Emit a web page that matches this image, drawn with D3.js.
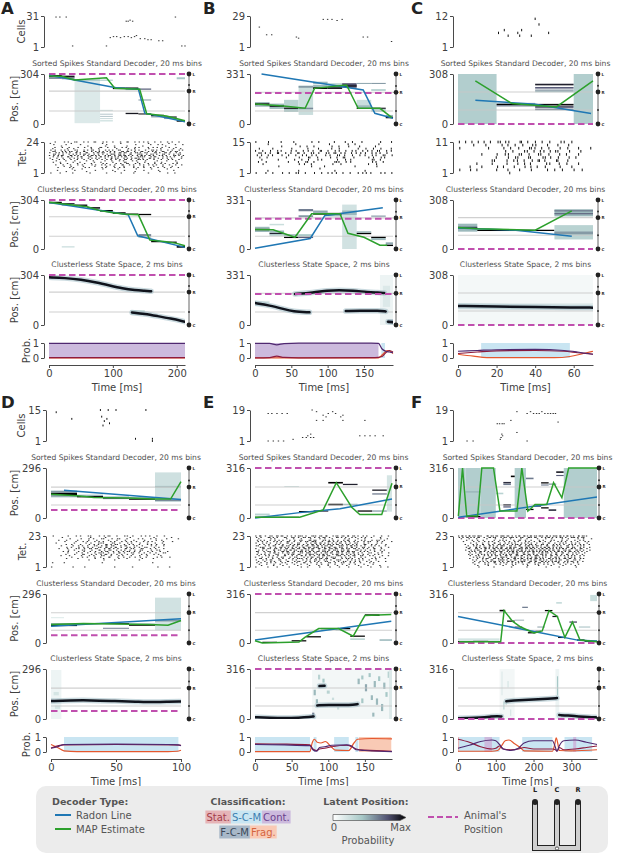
<!DOCTYPE html>
<html><head><meta charset="utf-8">
<script src="https://cdn.jsdelivr.net/npm/d3@7"></script>
<style>body{margin:0;background:#fff}svg{display:block}text{font-family:'DejaVu Sans',sans-serif}</style>
</head><body>
<script>
// ---------------- panel meta ----------------
const panelIds=['A','B','C','D','E','F'];
const durations=[213,190,70,100,187,368];
const maxPos=[304,331,308,296,316,316];
const animalPos=[304,205,0,47,316,0];
const nCells=[31,29,12,15,19,19];
const nTets=[24,15,11,23,23,23];
const trackUpper=[200,210,197,183,196,196];
const trackLower=[79,86,86,77,82,82];
const xTicks=[[0,100,200],[0,50,100,150],[0,20,40,60],[0,50,100],[0,50,100,150],[0,100,200,300]];

// Tetrode rasters: one string per tetrode (top row first); each character is one time slot,
// '.' = no mark, a digit d = mark at d/10 of the way through that slot.

// ---------------- panel A ----------------
const A_cells=[[11,30],[17,30],[27,30],[37,2],[90,2],[96,10],[101,11],[106,11],[112,10],[118,11],[121,26],[124,26],[127,27],[131,26],[124,11],[129,10],[134,11],[137,12],[143,9],[150,9],[155,8],[160,8],[172,7],[178,7],[198,30],[208,2],[213,2]];
const A_tet=[
"..3..7.1.52.8.4.61.9.2.5..3.71.6.28.4.9..1.6.3.8..",
"5.......2..........7......4.........6.......1.....",
".8....3....6.........2.........9.....4..17....5..2",
"....6.........3.....8...1...7.....5.......9.......",
"..2.9..4..7..1.5..83.6..2.9.4..7.1..5.38.6..2.7...",
".4....8..1.....6..3.....9....2.5....7....1...8..4.",
"7.3.58.1.64.9.273.5.8.14.62.9.37.1.5.846.2.7.3.9.1",
".52.9.164.3.81.7.259.46.1.8372.5.94.6.13.72.8.51..",
"3.68.147.925.71.48362.5.19473.2856.31.947.615.8.2.",
".736.2.49.15837.6.28.4951736.82.7419.536.84.29.63.",
"28.461.9357.8.36124.795.2846137.5923814.67.1.958.4",
".6.37.924.581.73.49268.135794.2.8631.572.9.46.1.8.",
"4.9..2.7.36.1.58.24.7.9153.68.47215.936.28.5.1..7.",
".3.8.6..1.4.9..2.7.5.38.6.194.2.857.1.6..3.9.4.8..",
"..7...2..5...8..3...6..1.9.4..7.2..5...8...3..6...",
".6..2...9..4....7..1...5...83...6..2..9..4.....1..",
"....3.8...5..1.6...9.2..7.4.61.8.3..5.9..27..6.1..",
"..5..2.9..6.3..8.1.47.5.2.93.6.1.48.7.25.9..3.6.8.",
".....7..3...9....2...6..4...1..8...5...3..7...2....",
"...4...8.2...6.1...9.3..7.5.2..8.4.6..1.9..3.7..5..",
"........6...2......8.....4......1....7.....5......",
"...2.....7.......4.....9....3......6.....1....8....",
"......5.......1.........8.......3........6.........",
"7...2...9......4.....6.....1...8.....3......5..2..."];
const A_sortedPost=[[0,20,284,298,1],[0,20,274,284,0.45],[20,40,282,294,0.9],[20,40,272,282,0.4],[40,80,5,262,0.1],[40,80,262,272,0.25],[80,100,262,270,0.2],[80,100,80,86,0.15],[80,100,58,62,0.35],[80,100,45,49,0.35],[80,100,33,36,0.3],[80,100,15,25,0.12],[100,120,212,222,1],[120,140,212,222,1],[120,140,206,212,0.4],[120,140,60,68,0.9],[140,160,208,216,0.55],[140,160,143,149,0.4],[140,160,58,64,1],[160,180,48,56,1],[160,180,40,48,0.4],[180,200,38,46,0.9],[180,200,30,38,0.35],[200,213,14,24,1],[200,213,272,284,0.25]];
const A_sortedMAP=[[0,292],[20,290],[40,267],[90,281],[103,217],[142,211],[153,62],[184,49],[213,20]];
const A_sortedRadon=[[0,297],[105,220],[140,212],[150,66],[213,14]];
const A_clustPost=[[0,20,283,293,1],[20,40,275,285,0.8],[20,40,268,275,0.3],[20,40,10,16,0.2],[40,60,266,276,0.9],[60,80,250,260,0.9],[80,100,232,242,1],[100,120,218,228,1],[120,140,212,220,1],[140,160,210,218,1],[140,160,80,92,0.5],[140,160,70,80,0.3],[160,180,42,50,1],[180,200,38,46,1],[200,213,8,20,1]];
const A_clustMAP=[[0,290],[20,280],[40,272],[60,262],[80,238],[100,225],[120,216],[140,212],[158,55],[184,45],[200,35],[213,20]];
const A_clustRadon=[[0,288],[124,213],[139,82],[213,10]];
const A_ssPaths=[[[0,290],[25,286],[50,276],[75,258],[95,240],[115,222],[135,212],[150,208],[160,205]],[[130,76],[150,68],[170,54],[190,40],[213,20]]];
const A_ssBlobs=[[128,150,60,90,0.15],[0,6,280,300,0.2]];
const A_probCont=[[0,0.97],[100,0.98],[213,0.97]];
const A_probStat=[[0,0.03],[213,0.03]];
const A_probFrag=[[0,0.01],[213,0.01]];
const A_spans=[[0,213,'cont']];

// ---------------- panel B ----------------
const B_cells=[[6,19],[16,12],[23,12],[57,10],[60,9],[94,26],[100,26],[106,26],[113,25],[120,26],[149,10],[155,10],[188,6]];
const B_tet=[
"3...7....1...5.....8..2....6...4.9...2.....7...5",
"....6.........2..........9......4.8........1....",
".........3.....7..1.5.....8..2..6...4....9......",
".5....2.....8.....4...1...7..3.....9..6..2.8...4",
"2.7..4.9.1..6.3.8.5.2.71.4.9.3.6.8.1.5.27.63.8.4",
".416.3.82.7.5.93.1.64.2.87.519.3.6.28.4.7.15.9..",
"8.3.6.1..4.7..2.59.8.3..6.1.74.2.9..5.3.8.1.62.7",
".7..2.....9....4..61.8....3.5.72..4....6.2.9.1..",
"..4.....1....8..3.6..9.2....7..5.3......84.6....",
".2.9.......6...1.73.5......842.7.3......9.1.6...",
"..8............4.2.6.......1.9.........5..3.....",
"........3..........7....2.........8.......4.....",
"......................6.........................",
"....5..........2...........8..........3.........",
"4..8..2..6.9..31.5..7..2.48.3.6..1.9.57.3..8.2.6"];
const B_sortedPost=[[0,20,125,138,0.95],[0,20,115,125,0.35],[0,20,138,145,0.3],[20,40,112,125,0.8],[20,40,100,112,0.3],[20,40,125,135,0.3],[40,60,100,110,1],[40,60,80,100,0.25],[40,60,110,160,0.2],[60,80,60,255,0.15],[60,80,240,252,0.4],[60,80,98,108,0.45],[80,100,232,244,1],[80,100,244,260,0.3],[80,100,265,280,0.3],[100,120,232,244,0.9],[100,120,244,256,0.35],[100,120,256,270,0.2],[120,140,240,270,0.65],[120,140,248,256,0.9],[140,160,265,272,0.35],[140,160,100,108,1],[140,160,108,125,0.3],[140,160,125,160,0.15],[160,180,265,272,0.4],[160,180,220,230,0.25],[160,180,100,108,0.9],[160,180,80,100,0.2],[180,190,38,50,1],[180,190,50,60,0.3]];
const B_sortedMAP=[[0,132],[39,119],[69,104],[82,236],[126,258],[142,104],[172,104],[188,44]];
const B_sortedRadon=[[9,331],[149,225],[165,71],[190,38]];
const B_clustPost=[[0,20,125,138,1],[0,20,115,125,0.3],[0,20,138,150,0.3],[20,40,100,110,0.85],[20,40,110,125,0.3],[20,40,90,100,0.25],[20,40,160,170,0.15],[40,60,74,84,1],[40,60,84,100,0.3],[60,80,215,228,0.4],[60,80,255,270,0.5],[60,80,84,100,0.25],[60,80,74,84,0.6],[80,100,232,244,1],[80,100,244,260,0.35],[100,120,232,244,1],[100,120,220,232,0.3],[120,140,0,300,0.13],[120,140,230,260,0.3],[140,160,100,110,1],[140,160,110,120,0.3],[160,180,74,84,1],[160,180,60,74,0.3],[160,180,218,226,0.4],[180,190,20,30,1],[180,190,30,45,0.35]];
const B_clustMAP=[[0,132],[25,130],[55,79],[78,238],[117,238],[128,106],[150,79],[172,26],[182,26]];
const B_clustRadon=[[0,5],[76,71],[96,225],[176,278]];
const B_ssPaths=[[[0,145],[20,130],[40,105],[52,90],[75,84]],[[125,92],[150,94],[170,95],[180,90]],[[55,205],[80,215],[100,228],[115,232],[135,228],[155,218],[170,215],[178,212]],[[183,22],[190,18]]];
const B_ssBlobs=[[172,190,0,331,0.05],[176,186,120,260,0.1],[183,190,10,35,0.5],[0,20,125,160,0.1]];
const B_probCont=[[0,0.98],[20,0.97],[30,0.88],[40,0.96],[60,0.99],[160,0.99],[170,0.97],[175,0.6],[180,0.45],[185,0.4],[190,0.35]];
const B_probStat=[[0,0.01],[20,0.03],[30,0.12],[40,0.04],[60,0.01],[165,0.02],[175,0.1],[180,0.35],[185,0.5],[190,0.4]];
const B_probFrag=[[0,0.01],[170,0.01],[176,0.25],[182,0.5],[186,0.45],[190,0.3]];
const B_spans=[[0,170,'cont'],[174,179,'scm']];

// ---------------- panel C ----------------
const C_cells=[[21,6],[24,7],[26,5],[31,6],[32,5],[33,7],[38,5],[40,11],[42,9],[47,6]];
const C_tet=[
"37.158.29463.815.27.4.96.3....",
"...5..2..8.17.4.63.9..2.6.....",
"4.....8...27.5.9316.2.7.4.8..5",
"..........6.2.849.31572.8..3..",
".....3..7.52.618.94.2.6.1.8...",
"........5..283.71.946.3.7.2...",
".......61.9.427.5813.92.4.....",
"....2..6..9..38.1..74.5.2.8...",
"..7..3..8.1.5.9.26.4..7..3....",
"4.8.2...6..1.7..3..9.5.2.8.6..",
"...........5.................."];
const C_sortedPost=[[0,20,0,308,0.22],[20,40,116,124,1],[20,40,124,130,0.4],[20,40,108,116,0.5],[40,60,238,248,0.85],[40,60,218,228,0.6],[40,60,205,212,0.45],[40,60,196,204,0.3],[40,60,114,124,0.95],[40,60,100,110,0.7],[40,60,85,95,0.5],[60,70,0,308,0.22]];
const C_sortedMAP=[[9,265],[28,126],[51,105],[70,265]];
const C_sortedRadon=[[9,147],[40,121],[69,65]];
const C_clustPost=[[0,10,109,159,0.3],[0,10,128,140,0.7],[10,30,113,121,1],[30,50,113,121,1],[50,70,205,250,0.3],[50,70,218,226,0.55],[50,70,236,244,0.5],[50,70,60,150,0.2],[50,70,92,110,0.4]];
const C_clustMAP=[[0,135],[10,127],[40,118],[59,240]];
const C_clustRadon=[[0,132],[30,118],[59,80]];
const C_ssPaths=[[[0,117],[20,114],[40,111],[60,108],[70,107]]];
const C_ssBlobs=[[0,70,0,308,0.03],[0,70,95,135,0.08]];
const C_probCont=[[0,0.45],[10,0.5],[20,0.55],[40,0.57],[55,0.5],[62,0.4],[70,0.25]];
const C_probStat=[[0,0.3],[10,0.4],[20,0.48],[40,0.5],[55,0.45],[62,0.35],[70,0.25]];
const C_probFrag=[[0,0.25],[8,0.12],[15,0.03],[50,0.02],[58,0.1],[65,0.3],[70,0.45]];
const C_spans=[[12,58,'scm']];

// ---------------- panel D ----------------
const D_cells=[[4,14],[16,11],[38,15],[44,15],[50,15],[39,12],[41,10],[43,11],[40,8],[45,9],[73,15],[65,2],[78,2],[78,1]];
const D_tet=[
"7....3.8.1.52.9.461.3.75.2.8.14.6.9.....",
"...5........2...8.......4......7.....1..",
".....9...3.7.1.62.8.51.4..9.2.7.3..6...2",
"..4.8...2..6..1..7..3.9..5..8...4.1.....",
"....3..7.9.2.58.1.46.8.27.3.59.1..6..4..",
".6.....2..8.3.741.95.2.68..4.7..1.3.....",
"....7.4..1.8.36.92584.6.13.2.79.5.8.....",
"...2..8.57.3.4169273.582.64.1.9.3.7.....",
"....9.3.6.148.73925816.437.295.8.2......",
"..5..1.86.39472.58136.9274.83.6.2.7.....",
".....4.2.73.6.81594.267.38.51.9.64......",
"...8.3..5.2.17.694.28.3517.4.8.2.6.9....",
".....2.9.6.3.58417.3926.84.17.5.3.62....",
"....6..3.82.59.4716.38.5.2.9.4.7.1......",
"...1.7...4.8.2.63.5.9.1.7..3.6...8......",
"......4..7.2.5.3.81.6.4.29.5.3..7.1.6...",
"....8...3....6..2...9..4....1..5........",
"...........7....3..6.......2............",
"........................................",
"5...1..........8...............3........",
"........................................",
"........................................",
"2.....8...4........6.....1......9...5..."];
const D_sortedPost=[[0,20,120,165,0.13],[0,20,136,150,1],[0,20,150,160,0.4],[0,20,126,136,0.4],[20,40,122,130,1],[20,40,130,138,0.3],[40,60,112,120,0.6],[40,60,120,128,0.3],[60,80,108,116,1],[60,80,116,124,0.3],[80,100,95,270,0.14],[80,100,180,190,0.28],[80,100,100,110,0.45]];
const D_sortedMAP=[[0,140],[20,131],[33,121],[60,118],[79,112],[92,112],[100,215]];
const D_sortedRadon=[[10,164],[100,110]];
const D_clustPost=[[0,20,102,112,1],[0,20,112,120,0.35],[0,10,150,155,0.12],[20,40,114,120,1],[40,60,114,120,1],[40,60,86,92,0.5],[60,80,104,112,1],[60,80,112,118,0.3],[80,100,77,274,0.13],[80,100,130,140,0.4]];
const D_clustMAP=[[0,112],[25,118],[75,112],[90,107],[100,136]];
const D_clustRadon=[[0,101],[100,146]];
const D_ssPaths=[[[0,106],[15,110],[30,111],[50,106],[65,103],[80,99],[90,102],[100,104]]];
const D_ssBlobs=[[0,8,0,290,0.05],[2,6,140,160,0.12],[3,7,60,80,0.12]];
const D_probCont=[[0,0.25],[5,0.35],[10,0.5],[50,0.52],[90,0.5],[98,0.48],[100,0.42]];
const D_probStat=[[0,0.27],[10,0.47],[50,0.5],[95,0.48],[100,0.45]];
const D_probFrag=[[0,0.5],[5,0.3],[10,0.08],[20,0.03],[90,0.03],[97,0.05],[100,0.12]];
const D_spans=[[10,98,'scm']];

// ---------------- panel E ----------------
const E_cells=[[18,17],[23,17],[30,17],[37,17],[44,17],[78,19],[84,18],[93,16],[97,15],[100,17],[106,18],[110,17],[117,15],[120,16],[84,13],[93,13],[120,13],[150,13],[18,1],[25,1],[32,1],[39,1],[52,2],[65,3],[70,3],[76,3],[80,3],[72,4],[76,5],[143,4],[150,4],[157,4],[164,4],[175,4]];
const E_tet=[
"3718.5294618.379526.8417392.5628491736.58..4..2.7.",
"6.2.947.1.83.529.73618.495.2.836.1.47.9.3.5..8....",
".4...8.2...6..1.9...3..7.5..2...8.4..6..1....9..3.",
"9.14.6.38.2.7.5.41.8362.97.15.3.482.6.9.1.7.53.2..",
".27.5.9.16.84.3.7.52941.6.837.159.4.26.8.31.7.5..9",
"4.8.26.9.3.715.62.8.4937158.2694.17.53.8.4..6.2...",
".7.3.1.58.2.9.4617.38259.1746839.527.1.94.6.2..8..",
"52.8.173.9264815.372958146372.851693427.1.58.3.6..",
".961.4.28357.146928375164928375.2816.739.5..2.8.",
"3.7152849.61837294561829374618253947.26.81.4...",
".48.2.9163758241936571.485927316482.957.3.16.8.2..",
"61.385.2.9471.3862591473865.294718362.59.1.7..4...",
".2.7.5936.18472.6395184.27361958.43827.1.64.9.3.8.",
"8.36.1.74.9.25183.694275813.4726159.38.5.2.7.1....",
".5.9.27.4.81.6.3925.17.48362.9517.284.63.9.1..5.7.",
"2.6.9.4.173.8.52.9.361847.2953.6.18.4.7.3..9.5....",
".83.1.5.7.2.49.6318.5.27394.61.8.425.9.3..7.1..6..",
"5.9.261.83.4.7.1.59.2846.317.952.8.36.14.7..2.....",
".3.6.8.1.4.92.573.6.18.2.74.9.5.318.6.2.8.4..1.7..",
"7.2.48.5.9.1.6.3.82.4.7.1.95.3.64.8.2.5..9.3......",
".6..3.9..2.7..4.8..1..5.3.7..2.9..4.6..8...1......",
"..4...8...2....6...9...3..7...1..5...8...2...6....",
"3...7...1...5...9..2...6...4..8...2...7...3..9..5."];
const E_sortedPost=[[0,20,0,8,1],[0,20,16,28,0.2],[20,40,0,8,1],[40,60,0,8,0.9],[40,60,196,200,0.2],[60,80,36,44,1],[80,100,40,48,0.8],[100,120,80,90,1],[100,120,218,228,1],[120,140,208,216,0.85],[120,140,82,90,0.3],[140,160,40,48,1],[160,180,40,48,0.4],[160,180,172,180,0.9],[160,180,148,156,0.5],[180,187,40,270,0.12]];
const E_sortedMAP=[[0,5],[61,5],[93,51],[111,223],[132,68],[143,22],[173,22],[187,220]];
const E_sortedRadon=[[0,0],[61,34],[116,59],[187,120]];
const E_clustPost=[[10,30,0,8,1],[30,50,0,6,0.6],[50,70,10,18,1],[70,90,36,44,1],[90,110,89,97,1],[110,130,89,97,1],[110,130,80,88,0.3],[130,150,40,48,1],[130,150,20,30,0.2],[150,170,175,185,1],[170,187,14,24,0.3]];
const E_clustMAP=[[0,15],[10,0],[60,6],[68,36],[87,93],[114,93],[134,44],[146,145],[150,177],[186,183]];
const E_clustRadon=[[0,19],[186,141]];
const E_ssPaths=[[[0,11],[20,8],[40,6],[60,8],[75,12],[80,16]],[[85,86],[100,88],[120,89],[135,90],[140,94]],[[88,208],[95,210]]];
const E_ssBlobs=[[78,187,0,316,0.035],[78,81,15,40,0.5],[80,83,150,185,0.3],[83,86,100,125,0.3],[86,89,250,280,0.2],[90,96,200,214,0.45],[92,95,230,255,0.25],[98,102,160,180,0.2],[105,108,120,135,0.15],[112,115,60,75,0.15],[140,143,220,255,0.3],[145,148,250,275,0.25],[150,153,175,220,0.35],[155,158,265,290,0.25],[158,161,120,150,0.3],[162,165,200,240,0.3],[165,168,90,130,0.3],[168,171,240,270,0.25],[172,175,50,95,0.3],[175,178,190,230,0.3],[178,181,140,170,0.25],[181,184,260,300,0.2],[183,187,0,316,0.1],[145,148,100,130,0.25],[160,163,15,40,0.3]];
const E_probCont=[[0,0.5],[40,0.47],[75,0.42],[79,0.15],[84,0.05],[88,0.3],[95,0.35],[105,0.45],[125,0.48],[132,0.4],[138,0.15],[150,0.1],[170,0.05],[187,0.03]];
const E_probStat=[[0,0.55],[40,0.53],[75,0.47],[79,0.2],[84,0.1],[88,0.2],[95,0.25],[105,0.35],[125,0.45],[132,0.35],[138,0.2],[150,0.12],[187,0.05]];
const E_probFrag=[[0,0.02],[75,0.03],[78,0.6],[81,0.85],[85,0.65],[90,0.6],[96,0.7],[104,0.35],[110,0.12],[128,0.1],[135,0.6],[140,0.85],[160,0.9],[187,0.88]];
const E_spans=[[0,75,'scm'],[80,84,'scm'],[108,128,'scm'],[137,141,'scm'],[142,186,'frag']];

// ---------------- panel F ----------------
const F_cells=[[24,1],[40,1],[104,11],[110,11],[117,11],[122,11],[112,2],[114,3],[116,5],[118,4],[140,13],[156,18],[156,6],[183,17],[192,18],[200,17],[208,17],[215,17],[222,18],[230,17],[238,17],[245,17],[252,17],[258,17],[265,12],[183,1]];
const F_tet=[
"37159264831.826473951628.47193582647318259637148257.91634....",
"6.2947.183.5.7264.9.318527.64.93172.8.4615.297.3.8516.42.....",
".5..9...2...7...4..8...1...6..3...9...5..2...8..4...7..1..6..",
"...8..3.6..1...9..47.2..5.83.6..1..7.4..9.2..6.8...3.5.1.....",
"..4...9..2.7.5.1.8..3.6.9.4..7.2.5.81.3.6..9.4.2.7..5..8.3...",
".....6..1.8..4.92.5.7.36.1.9.48.2.6..3.71.5.8.24.9.6.3..7....",
"...2..7.4.91.6.3.85.17.9.426.8.53.1.74.2.9.36.5.8.14.7.2.6...",
"....5.9.27.4.816.3952.74.193.6827.415.93.627.1.84.3.59.2.....",
"...7.3.915.628.47193.58264.71935826.493718.264.95.31.7.2.8...",
"....61.84.2937.5168294735.92174836.5928147.36925.814.73.6....",
"...4.8.362.71.594.273816495827.36159472836194.5372.846.1.9...",
"....9.24.716.3849152.67938.214759368.1527.4936.185.27.4.6....",
".....3.8.51.9.264.715.39482.617.93.58264.193.72.5.48.1.6.....",
"....7.2.9.46.18.3.59.274.61.8395.27.416.8.93.5.71.4.2.6......",
".....4.9.1.6.38.527.94.1.6382.57.941.26.83.5.17.49.2.6.3.....",
"......8.35.1.72.6.9413.582.7.16.3948.25.7.613.9.48.2.5.......",
".....2..6.9.41.738.5.92.61483.57196.24.837.15.6294.3.8.1.....",
"......5.1.8.3.62.97415.283.6947.1528369.74.152.83.96.4.......",
".......3.7.19.584.26.9371.5842.6193.7258.4613.9.274.5.8......",
"......6..2.8.4.93.7.15.8.36.2.94.7.518.3.6.92.4.1.7.5........",
".......4...9.2..7.5..1.8.3..6.4..9.2.7.5..1.8..3.6..9........",
"........7....3.....8....2.....6....4....9.....1....5.........",
".........2.....8.......5......3.......7.....4......9........."];
const F_sortedPost=[[0,20,0,316,0.22],[20,60,20,316,0.22],[20,40,4,14,1],[40,60,4,14,1],[20,60,160,170,0.3],[60,100,0,316,0.22],[100,120,150,160,0.2],[120,140,218,228,0.8],[120,140,208,216,0.5],[120,140,78,88,0.85],[120,140,66,74,0.6],[140,160,258,268,1],[150,180,0,316,0.22],[180,200,245,255,0.5],[180,200,50,58,1],[200,220,70,80,0.6],[220,240,218,226,1],[220,240,205,212,0.5],[220,240,60,68,1],[240,260,45,55,0.8],[240,260,210,218,0.4],[260,280,285,295,0.9],[260,280,265,272,0.6],[280,368,0,316,0.22]];
const F_sortedMAP=[[1,13],[12,316],[23,13],[52,13],[63,316],[94,316],[111,44],[156,44],[169,316],[185,44],[191,55],[204,86],[235,86],[253,223],[275,128],[293,316],[368,316]];
const F_sortedRadon=[[1,5],[368,133]];
const F_clustPost=[[0,110,14,30,0.12],[0,40,4,12,1],[40,80,6,14,0.9],[80,110,4,12,1],[110,125,204,214,1],[130,150,137,145,1],[150,175,145,150,0.4],[150,170,100,106,0.8],[170,185,226,234,0.5],[185,205,62,70,1],[205,220,74,82,0.7],[210,230,100,106,0.4],[230,250,205,213,1],[250,265,167,175,0.9],[260,275,255,262,0.25],[265,285,32,40,1],[295,315,131,139,0.7],[315,335,15,23,1],[320,350,100,106,0.3],[335,368,6,14,0.8],[350,368,270,310,0.15]];
const F_clustMAP=[[3,8],[113,8],[122,209],[144,141],[166,103],[201,65],[223,78],[241,209],[263,171],[283,36],[303,135],[323,19],[368,8]];
const F_clustRadon=[[0,171],[320,17],[368,13]];
const F_ssPaths=[[[0,4],[30,6],[60,9],[90,16],[105,19],[115,16]],[[128,112],[160,118],[200,123],[240,128],[262,132]],[[268,25],[290,22],[320,16],[345,12],[368,10]]];
const F_ssBlobs=[[110,150,0,316,0.035],[115,118,150,300,0.1],[120,123,60,110,0.2],[126,129,90,110,0.2],[131,134,200,240,0.12],[258,268,0,316,0.05],[262,265,150,270,0.25],[138,141,20,60,0.12]];
const F_probCont=[[0,0.25],[30,0.45],[60,0.7],[90,0.8],[100,0.75],[110,0.5],[120,0.2],[140,0.1],[160,0.25],[175,0.6],[200,0.75],[250,0.75],[258,0.3],[262,0.05],[268,0.4],[280,0.75],[310,0.8],[340,0.65],[368,0.5]];
const F_probStat=[[0,0.85],[30,0.65],[60,0.35],[90,0.2],[100,0.25],[110,0.4],[120,0.2],[140,0.15],[160,0.2],[175,0.3],[200,0.2],[250,0.2],[258,0.15],[262,0.05],[268,0.3],[280,0.15],[310,0.2],[340,0.3],[368,0.4]];
const F_probFrag=[[0,0.05],[90,0.05],[105,0.1],[115,0.4],[125,0.75],[135,0.8],[150,0.55],[165,0.3],[175,0.08],[250,0.05],[256,0.5],[260,0.95],[264,0.6],[268,0.1],[300,0.08],[368,0.15]];
const F_spans=[[0,110,'scm'],[70,90,'cont'],[0,3,'stat'],[170,250,'scm'],[282,355,'scm'],[305,313,'cont']];

// ---------------- legend text ----------------
const classLabels=[['Stat.','stat'],['S-C-M','scm'],['Cont.','cont'],['F-C-M','fcm'],['Frag.','frag']];

// ---------------- build tables ----------------
const P={
 A:{cells:A_cells,tet:A_tet,sp:A_sortedPost,sm:A_sortedMAP,sr:A_sortedRadon,cp:A_clustPost,cm:A_clustMAP,cr:A_clustRadon,ssp:A_ssPaths,ssb:A_ssBlobs,pc:A_probCont,ps:A_probStat,pf:A_probFrag,spans:A_spans},
 B:{cells:B_cells,tet:B_tet,sp:B_sortedPost,sm:B_sortedMAP,sr:B_sortedRadon,cp:B_clustPost,cm:B_clustMAP,cr:B_clustRadon,ssp:B_ssPaths,ssb:B_ssBlobs,pc:B_probCont,ps:B_probStat,pf:B_probFrag,spans:B_spans},
 C:{cells:C_cells,tet:C_tet,sp:C_sortedPost,sm:C_sortedMAP,sr:C_sortedRadon,cp:C_clustPost,cm:C_clustMAP,cr:C_clustRadon,ssp:C_ssPaths,ssb:C_ssBlobs,pc:C_probCont,ps:C_probStat,pf:C_probFrag,spans:C_spans},
 D:{cells:D_cells,tet:D_tet,sp:D_sortedPost,sm:D_sortedMAP,sr:D_sortedRadon,cp:D_clustPost,cm:D_clustMAP,cr:D_clustRadon,ssp:D_ssPaths,ssb:D_ssBlobs,pc:D_probCont,ps:D_probStat,pf:D_probFrag,spans:D_spans},
 E:{cells:E_cells,tet:E_tet,sp:E_sortedPost,sm:E_sortedMAP,sr:E_sortedRadon,cp:E_clustPost,cm:E_clustMAP,cr:E_clustRadon,ssp:E_ssPaths,ssb:E_ssBlobs,pc:E_probCont,ps:E_probStat,pf:E_probFrag,spans:E_spans},
 F:{cells:F_cells,tet:F_tet,sp:F_sortedPost,sm:F_sortedMAP,sr:F_sortedRadon,cp:F_clustPost,cm:F_clustMAP,cr:F_clustRadon,ssp:F_ssPaths,ssb:F_ssBlobs,pc:F_probCont,ps:F_probStat,pf:F_probFrag,spans:F_spans}
};

// ---------------- layout & style ----------------
const colX0=[49,255,458,51,255,458];
const colX1=[185,393,593,181,392,597];
const iconX=[189,396,598,189,396,599];
const rowOffset=[0,0,0,394,394,394];
const letterX=[1,203,411,1,203,411];
const ROW={cells:[16,47],sorted:[74,124],tet:[142,173],clust:[200,249],ss:[275,325],prob:[343,358],xaxis:365,time:387};
const TXT='#404040', SPINE='#4a4a4a';
const MAG='#c04fae', BLUE='#1f77b4', GREEN='#2ca02c';
const classBg={cont:'#ccbadd',scm:'#c9e5f2',fcm:'#a8b8c8',frag:'#f9cab5',stat:'#e6b4b7'};
const classFg={cont:'#6a3f8c',scm:'#3c7fb0',fcm:'#3b4858',frag:'#d5643d',stat:'#a33d4a'};
const lineCol={cont:'#4f2870',stat:'#8e1b3d',frag:'#e4572e'};
const bone=d3.scaleLinear().domain([0,0.254,0.635,1]).range(['#ffffff','#a6c7c6','#515171','#000000']).clamp(true);

const svg=d3.select('body').append('svg').attr('width',617).attr('height',856);
let clipN=0;

function styleAxis(a,fs){
  a.attr('font-family','DejaVu Sans').attr('font-size',fs||10);
  a.select('.domain').attr('stroke',SPINE).attr('stroke-width',1);
  a.selectAll('.tick line').attr('stroke',SPINE);
  a.selectAll('.tick text').attr('fill',TXT);
}
function leftAxis(g,scale,ticks,sx){
  const ax=d3.axisLeft(scale).tickValues(ticks).tickSize(3).tickSizeOuter(0).tickPadding(2).tickFormat(d3.format('d'));
  const a=g.append('g').attr('transform',`translate(${sx},0)`).call(ax);
  styleAxis(a,10);
}
function yLabel(g,txt,xc,yc){
  g.append('text').attr('transform',`translate(${xc},${yc}) rotate(-90)`).attr('text-anchor','middle')
   .attr('dominant-baseline','central').attr('font-size',10).attr('fill',TXT).text(txt);
}
function makeClip(g,x0,y0,w,h){
  const id='clp'+(clipN++);
  g.append('clipPath').attr('id',id).append('rect').attr('x',x0).attr('y',y0).attr('width',w).attr('height',h);
  return g.append('g').attr('clip-path',`url(#${id})`);
}
function raster(g,x,y,marks,rowH){
  const dense=rowH<2;
  const h=dense?0.85:Math.min(3.2,rowH*0.85);
  const w=dense?1.4:1.0;
  g.selectAll(null).data(marks).join('rect')
   .attr('x',d=>x(d[0])-w/2).attr('y',d=>y(d[1])-h/2).attr('width',w).attr('height',h).attr('fill','#111');
}

function posPlot(g,i,x,top,bot,post,map,radon,paths,blobs,title,first){
  const x0=colX0[i],x1=colX1[i];
  const y=d3.scaleLinear().domain([0,maxPos[i]]).range([bot,top]);
  const c=makeClip(g,x0,top,x1-x0,bot-top);
  const rects=(post||[]).concat(blobs||[]);
  c.selectAll(null).data(rects).join('rect')
   .attr('x',d=>x(d[0])).attr('width',d=>Math.max(0,x(Math.min(d[1],durations[i]))-x(d[0])))
   .attr('y',d=>y(d[3])).attr('height',d=>y(d[2])-y(d[3])).attr('fill',d=>bone(d[4]));
  c.selectAll(null).data([trackUpper[i],trackLower[i]]).join('line')
   .attr('x1',x0).attr('x2',x1).attr('y1',d=>y(d)).attr('y2',d=>y(d)).attr('stroke','#c8c8c8').attr('stroke-width',1.1).attr('opacity',0.85);
  if(paths){
    const ln=d3.line().x(d=>x(d[0])).y(d=>y(d[1])).curve(d3.curveBasis);
    c.selectAll(null).data(paths).join('path').attr('d',ln).attr('fill','none').attr('stroke','#9fbcc4').attr('stroke-width',5.5).attr('stroke-opacity',0.55).attr('stroke-linecap','round');
    c.selectAll(null).data(paths).join('path').attr('d',ln).attr('fill','none').attr('stroke','#10131c').attr('stroke-width',2.5).attr('stroke-linecap','round');
  }
  g.append('line').attr('x1',x0).attr('x2',x1).attr('y1',y(animalPos[i])).attr('y2',y(animalPos[i]))
   .attr('stroke',MAG).attr('stroke-width',2).attr('stroke-dasharray','6.5,3.5');
  const lin=d3.line().x(d=>x(d[0])).y(d=>y(d[1]));
  if(radon) g.append('path').datum(radon).attr('d',lin).attr('fill','none').attr('stroke',BLUE).attr('stroke-width',1.5);
  if(map) g.append('path').datum(map).attr('d',lin).attr('fill','none').attr('stroke',GREEN).attr('stroke-width',1.5);
  g.append('text').attr('x',(x0+x1)/2).attr('y',top-8.5).attr('text-anchor','middle').attr('font-size',7.6).attr('fill','#505050').text(title);
  leftAxis(g,y,[0,maxPos[i]],x0-5);
  if(first) yLabel(g,'Pos. [cm]',14,(top+bot)/2);
  const ix=iconX[i];
  const ic=g.append('g');
  ic.append('line').attr('x1',ix).attr('x2',ix).attr('y1',y(maxPos[i])).attr('y2',y(0)).attr('stroke','#666').attr('stroke-width',1);
  const big=[[maxPos[i],'L'],[trackUpper[i],'R'],[0,'C']];
  const small=[trackLower[i],trackUpper[i]+(maxPos[i]-trackUpper[i])*0.35];
  ic.selectAll(null).data(small).join('circle').attr('cx',ix).attr('cy',d=>y(d)).attr('r',1).attr('fill','#333');
  ic.selectAll(null).data(big).join('circle').attr('cx',ix).attr('cy',d=>y(d[0])).attr('r',2.4).attr('fill','#222');
  ic.selectAll(null).data(big).join('text').attr('x',ix+3.5).attr('y',d=>y(d[0])+1.5).attr('font-size',4).attr('font-weight','bold').attr('fill','#333').text(d=>d[1]);
}

function drawPanel(i){
  const id=panelIds[i], d=P[id], off=rowOffset[i], first=(i%3===0);
  const x0=colX0[i],x1=colX1[i];
  const x=d3.scaleLinear().domain([0,durations[i]]).range([x0,x1]);
  const g=svg.append('g');
  g.append('text').attr('x',letterX[i]).attr('y',14+off).attr('font-size',16.5).attr('font-weight','bold').attr('fill','#222').text(id);
  const [ct,cb]=[ROW.cells[0]+off,ROW.cells[1]+off];
  const yC=d3.scaleLinear().domain([1,nCells[i]]).range([cb,ct]);
  raster(g,x,yC,d.cells,(cb-ct)/(nCells[i]-1));
  leftAxis(g,yC,[1,nCells[i]],x0-5);
  if(first) yLabel(g,'Cells',21,(ct+cb)/2);
  posPlot(g,i,x,ROW.sorted[0]+off,ROW.sorted[1]+off,d.sp,d.sm,d.sr,null,null,'Sorted Spikes Standard Decoder, 20 ms bins',first);
  const [tt,tb]=[ROW.tet[0]+off,ROW.tet[1]+off];
  const yT=d3.scaleLinear().domain([1,nTets[i]]).range([tb,tt]);
  const tmarks=[];
  d.tet.forEach((s,k)=>{const row=nTets[i]-k; for(let j=0;j<s.length;j++){ const c=s[j]; if(c>='1'&&c<='9') tmarks.push([(j+(+c)/10)/s.length*durations[i],row]); }});
  raster(g,x,yT,tmarks,(tb-tt)/(nTets[i]-1));
  leftAxis(g,yT,[1,nTets[i]],x0-5);
  if(first) yLabel(g,'Tet.',22,(tt+tb)/2);
  posPlot(g,i,x,ROW.clust[0]+off,ROW.clust[1]+off,d.cp,d.cm,d.cr,null,null,'Clusterless Standard Decoder, 20 ms bins',first);
  posPlot(g,i,x,ROW.ss[0]+off,ROW.ss[1]+off,null,null,null,d.ssp,d.ssb,'Clusterless State Space, 2 ms bins',first);
  const [pt,pb]=[ROW.prob[0]+off,ROW.prob[1]+off];
  const yP=d3.scaleLinear().domain([0,1]).range([pb,pt]);
  g.selectAll(null).data(d.spans).join('rect').attr('x',s=>x(s[0])).attr('width',s=>x(s[1])-x(s[0]))
   .attr('y',yP(1)).attr('height',yP(0)-yP(1)).attr('fill',s=>classBg[s[2]]);
  const pl=d3.line().x(p=>x(p[0])).y(p=>yP(p[1])).curve(d3.curveMonotoneX);
  [['pf','frag'],['ps','stat'],['pc','cont']].forEach(([k,c])=>{
    g.append('path').datum(d[k]).attr('d',pl).attr('fill','none').attr('stroke',lineCol[c]).attr('stroke-width',1.2);
  });
  leftAxis(g,yP,[0,1],x0-5);
  if(first) yLabel(g,'Prob.',26,(pt+pb)/2);
  const ax=d3.axisBottom(x).tickValues(xTicks[i]).tickSize(3).tickSizeOuter(0).tickPadding(2);
  const a=g.append('g').attr('transform',`translate(0,${ROW.xaxis+off})`).call(ax);
  styleAxis(a,10);
  g.append('text').attr('x',(x0+x1)/2).attr('y',ROW.time+off+3.5).attr('text-anchor','middle').attr('font-size',10).attr('fill',TXT).text('Time [ms]');
}
panelIds.forEach((id,i)=>drawPanel(i));

// ---------------- legend ----------------
const lg=svg.append('g');
lg.append('rect').attr('x',36).attr('y',786).attr('width',572).attr('height',67).attr('rx',10).attr('fill','#ececec');
const head=(t,xx,anchor)=>lg.append('text').attr('x',xx).attr('y',805).attr('text-anchor',anchor).attr('font-size',9.5).attr('font-weight','bold').attr('fill','#555').text(t);
head('Decoder Type:',52,'start');
[['Radon Line',BLUE,815],['MAP Estimate',GREEN,829]].forEach(([t,c,yy])=>{
  lg.append('line').attr('x1',55).attr('x2',71).attr('y1',yy).attr('y2',yy).attr('stroke',c).attr('stroke-width',2);
  lg.append('text').attr('x',76).attr('y',yy+3.5).attr('font-size',10).attr('fill','#555').text(t);
});
head('Classification:',248,'middle');
function classRow(items,yy){
  const gr=lg.append('g');
  const ts=items.map(([t,k])=>gr.append('text').attr('y',yy+3.5).attr('font-size',10).attr('fill',classFg[k]).text(t));
  const ws=ts.map(t=>t.node().getComputedTextLength()+2);
  let cx=248-d3.sum(ws)/2;
  ts.forEach((t,j)=>{
    gr.insert('rect','text').attr('x',cx).attr('y',yy-6.5).attr('width',ws[j]).attr('height',13).attr('fill',classBg[items[j][1]]);
    t.attr('x',cx+1); cx+=ws[j];
  });
}
classRow(classLabels.slice(0,3),817);
classRow(classLabels.slice(3),832);
head('Latent Position:',366,'middle');
const grad=svg.append('defs').append('linearGradient').attr('id','lpg');
grad.append('stop').attr('offset','0%').attr('stop-color','#ffffff');
grad.append('stop').attr('offset','40%').attr('stop-color','#a6c7c6');
grad.append('stop').attr('offset','75%').attr('stop-color','#515171');
grad.append('stop').attr('offset','100%').attr('stop-color','#000000');
lg.append('path').attr('d','M333,814.5H400L406,817.5L400,820.5H333Z').attr('fill','url(#lpg)').attr('stroke','#555').attr('stroke-width',0.7);
lg.append('text').attr('x',334).attr('y',831).attr('text-anchor','middle').attr('font-size',10).attr('fill','#555').text('0');
lg.append('text').attr('x',411).attr('y',831).attr('text-anchor','end').attr('font-size',10).attr('fill','#555').text('Max');
lg.append('text').attr('x',368).attr('y',844).attr('text-anchor','middle').attr('font-size',10).attr('fill','#555').text('Probability');
lg.append('line').attr('x1',428).attr('x2',458).attr('y1',817).attr('y2',817).attr('stroke',MAG).attr('stroke-width',2).attr('stroke-dasharray','6,3');
lg.append('text').attr('x',464).attr('y',819).attr('font-size',10).attr('fill','#555').text("Animal's");
lg.append('text').attr('x',464).attr('y',833).attr('font-size',10).attr('fill','#555').text('Position');
const trk='M535,802V848H578V802M557,802V848';
lg.append('path').attr('d',trk).attr('fill','none').attr('stroke','#222').attr('stroke-width',6);
lg.append('path').attr('d',trk).attr('fill','none').attr('stroke','#cfcfcf').attr('stroke-width',4);
const arms=[[535,'L'],[557,'C'],[578,'R']];
lg.selectAll(null).data(arms).join('circle').attr('cx',d=>d[0]).attr('cy',802).attr('r',3).attr('fill','#222');
lg.selectAll(null).data(arms).join('text').attr('x',d=>d[0]).attr('y',792).attr('text-anchor','middle').attr('font-size',6.5).attr('font-weight','bold').attr('fill','#222').text(d=>d[1]);
lg.append('circle').attr('cx',557).attr('cy',848.5).attr('r',1.6).attr('fill','#fff').attr('stroke','#222').attr('stroke-width',0.7);
</script>
</body></html>
